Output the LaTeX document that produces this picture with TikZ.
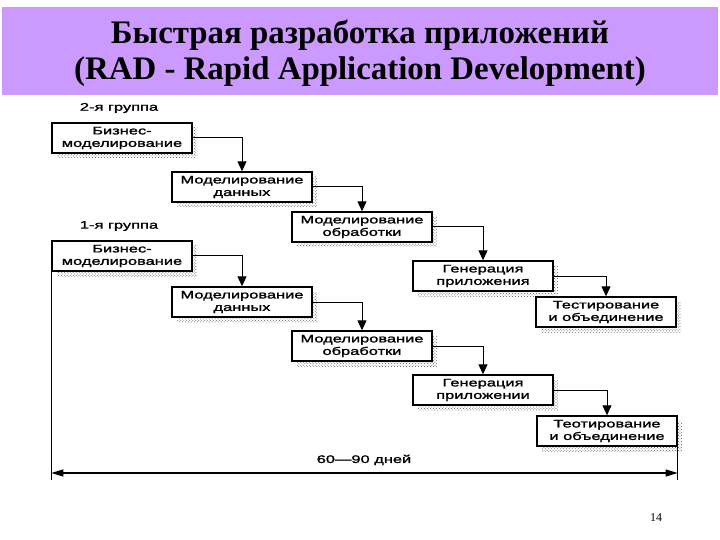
\documentclass[tikz,border=0pt]{standalone}
\usepackage{fontspec}
\setmainfont{Liberation Serif}
\newfontfamily\boxfont[FakeStretch=1.5, FakeBold=1.6]{Liberation Sans}
\usetikzlibrary{positioning, arrows.meta, patterns}
\definecolor{TitleBand}{HTML}{CC99FF}

\begin{document}
\begin{tikzpicture}[x=1bp, y=-1bp,
  box/.style={draw=black, line width=1.4bp, fill=white,
              minimum width=140bp, minimum height=30bp, inner sep=2pt,
              align=center, font=\boxfont\fontsize{11}{12.5}\selectfont,
              preaction={draw=none, pattern=crosshatch dots, pattern color=black!65,
                         transform canvas={xshift=5bp, yshift=-5bp}}},
  arr/.style={-{Triangle[length=10bp, width=9bp]}, line width=1bp},
  span/.style={{Triangle[length=12bp, width=7bp]}-{Triangle[length=12bp, width=7bp]}, line width=1.1bp},
  lbl/.style={font=\boxfont\fontsize{11}{12}\selectfont},
]
  \useasboundingbox (0,0) rectangle (720,540);
  \fill[TitleBand] (2,7) rectangle (718,95);
  \node[font=\bfseries\fontsize{33}{36}\selectfont, align=center] (title) at (360,53)
    {Быстрая разработка приложений\\(RAD - Rapid Application Development)};

  % 2nd group
  \node[lbl] (grp2) at (119,108) {2-я группа};
  \node[box] (g2biz) at (122,138) {Бизнес-\\моделирование};
  \node[box] (g2data) at (242,187) {Моделирование\\данных};
  \node[box] (g2proc) at (362,227) {Моделирование\\обработки};
  \node[box] (g2gen) at (483,276) {Генерация\\приложения};
  \node[box] (g2test) at (606,312) {Тестирование\\и объединение};

  % 1st group
  \node[lbl] (grp1) at (119,226) {1-я группа};
  \node[box] (g1biz) at (122,256) {Бизнес-\\моделирование};
  \node[box] (g1data) at (242,302) {Моделирование\\данных};
  \node[box] (g1proc) at (362,346) {Моделирование\\обработки};
  \node[box] (g1gen) at (483,390) {Генерация\\приложении};
  \node[box] (g1test) at (607,431) {Теотирование\\и объединение};

  \draw[arr] (g2biz.east) -| (g2data.north);
  \draw[arr] (g2data.east) -| (g2proc.north);
  \draw[arr] (g2proc.east) -| (g2gen.north);
  \draw[arr] (g2gen.east) -| (g2test.north);

  \draw[arr] (g1biz.east) -| (g1data.north);
  \draw[arr] (g1data.east) -| (g1proc.north);
  \draw[arr] (g1proc.east) -| (g1gen.north);
  \draw[arr] (g1gen.east) -| (g1test.north);

  % time span
  \coordinate (lftend) at (g1biz.south west |- 0,480);
  \coordinate (rgtend) at (g1test.south east |- 0,480);
  \coordinate (spanL) at (g1biz.south west |- 0,473);
  \coordinate (spanR) at (g1test.south east |- 0,473);
  \draw[line width=1.1bp] (g1biz.south west) -- (lftend);
  \draw[line width=1.1bp] (g1test.south east) -- (rgtend);
  \draw[span] (spanL) -- (spanR);
  \node[lbl] (days) at (364,460) {60—90 дней};

  \node[font=\fontsize{12}{14}\selectfont] (pnum) at (656,518) {14};
\end{tikzpicture}
\end{document}
